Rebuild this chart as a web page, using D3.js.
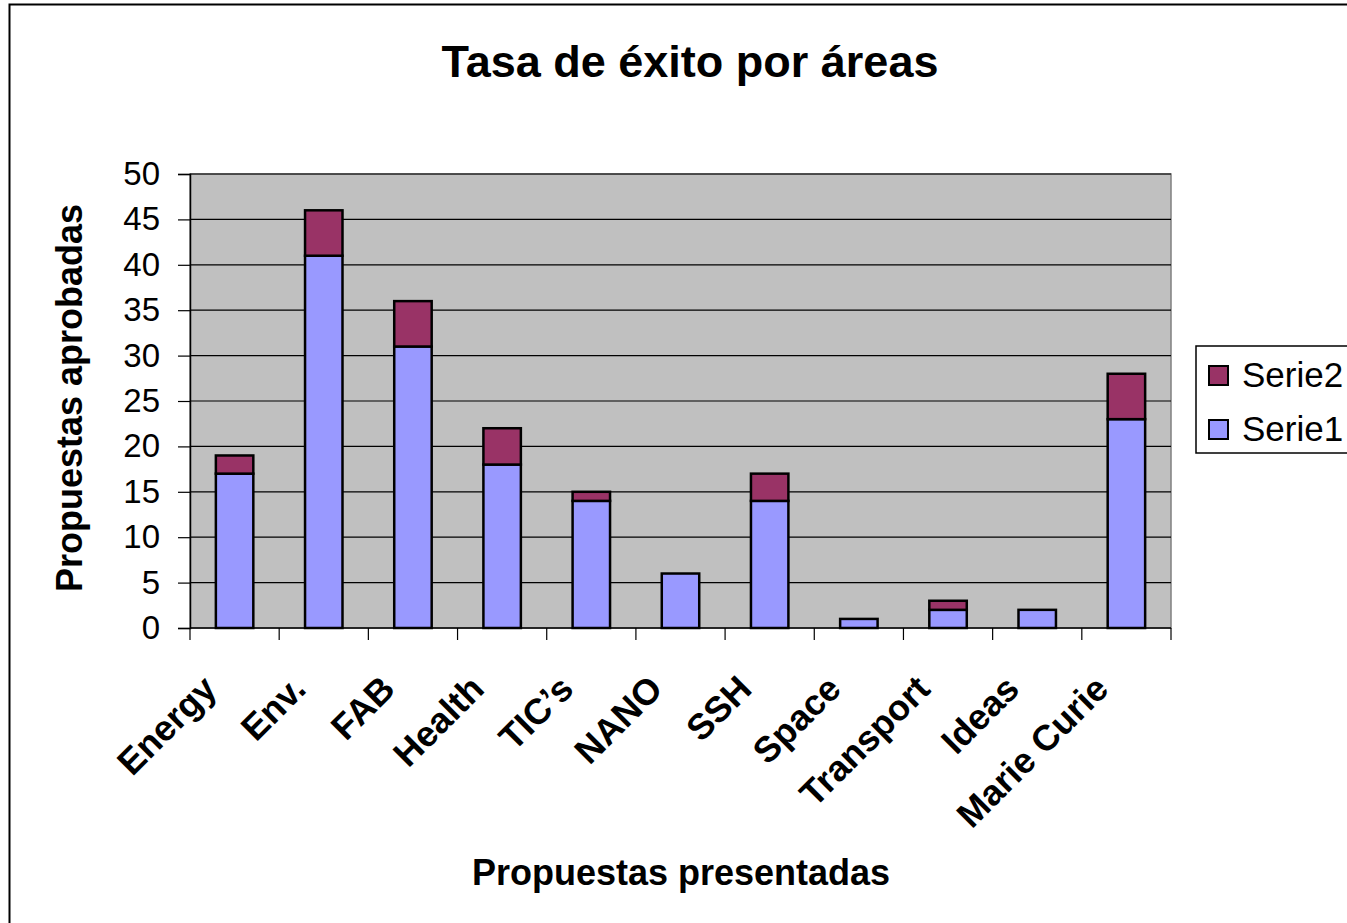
<!DOCTYPE html>
<html><head><meta charset="utf-8">
<script src="https://cdn.jsdelivr.net/npm/d3@7"></script>
<style>body{margin:0;background:#fff}svg{display:block;font-family:Arial,"Liberation Sans",sans-serif}</style>
</head><body>
<svg id="c" width="1347" height="923"></svg>
<script>
const categories = ["Energy","Env.","FAB","Health","TIC’s","NANO","SSH","Space","Transport","Ideas","Marie Curie"];
const serie1 = [17,41,31,18,14,6,14,1,2,2,23];
const serie2 = [2,5,5,4,1,0,3,0,1,0,5];
const yTicks = [0,5,10,15,20,25,30,35,40,45,50];
const seriesNames = ["Serie1","Serie2"];
const colors = {Serie1:"#9999FF", Serie2:"#993366"};

const svg = d3.select("#c");
svg.append("rect").attr("x",9.5).attr("y",4.5).attr("width",1400).attr("height",1000)
  .attr("fill","#fff").attr("stroke","#000").attr("stroke-width",2);

const L=190,R=1171,T=174,B=628;
const x = d3.scaleBand().domain(categories).range([L,R]).paddingInner(0.58).paddingOuter(0.29);
const xb = d3.scaleBand().domain(categories).range([L,R]);
const y = d3.scaleLinear().domain([0,50]).range([B,T]);

svg.append("rect").attr("x",L).attr("y",T).attr("width",R-L).attr("height",B-T)
  .attr("fill","#C0C0C0").attr("stroke","#808080").attr("stroke-width",1.5);

svg.append("g").selectAll("line").data(yTicks.filter(d=>d>0)).join("line")
  .attr("x1",L).attr("x2",R).attr("y1",d=>y(d)).attr("y2",d=>y(d))
  .attr("stroke","#000").attr("stroke-width",1.2);

const data = categories.map((c,i)=>({cat:c,Serie1:serie1[i],Serie2:serie2[i]}));
const stack = d3.stack().keys(seriesNames)(data);
svg.append("g").selectAll("g").data(stack).join("g")
  .attr("fill",s=>colors[s.key])
  .selectAll("rect").data(s=>s.filter(d=>d[1]-d[0]>0)).join("rect")
  .attr("x",d=>x(d.data.cat)).attr("width",x.bandwidth())
  .attr("y",d=>y(d[1])).attr("height",d=>y(d[0])-y(d[1]))
  .attr("stroke","#000").attr("stroke-width",2.5);

const ya = svg.append("g").attr("transform",`translate(${L},0)`)
  .call(d3.axisLeft(y).tickValues(yTicks).tickSize(12).tickPadding(18));
ya.select(".domain").attr("stroke","#000").attr("stroke-width",1.5);
ya.selectAll(".tick line").attr("stroke","#000").attr("stroke-width",1.2);
ya.selectAll(".tick text").attr("font-size",33).attr("fill","#000").attr("font-family","Arial,'Liberation Sans',sans-serif");

const xa = svg.append("g").attr("transform",`translate(0,${B})`);
xa.append("line").attr("x1",L).attr("x2",R).attr("stroke","#000").attr("stroke-width",1.5);
const bounds = categories.map(c=>xb(c)).concat([R]);
xa.selectAll("line.t").data(bounds).join("line").attr("class","t")
  .attr("x1",d=>d).attr("x2",d=>d).attr("y1",0).attr("y2",12).attr("stroke","#000").attr("stroke-width",1.2);
xa.selectAll("text").data(categories).join("text")
  .attr("transform",c=>`translate(${xb(c)+xb.bandwidth()/2-16},${63}) rotate(-45)`)
  .attr("text-anchor","end").attr("font-size",36).attr("font-weight","bold").attr("fill","#000")
  .text(c=>c);

svg.append("text").attr("x",690).attr("y",77).attr("text-anchor","middle")
  .attr("font-size",45).attr("font-weight","bold").text("Tasa de éxito por áreas");
svg.append("text").attr("x",681).attr("y",885).attr("text-anchor","middle")
  .attr("font-size",36).attr("font-weight","bold").text("Propuestas presentadas");
svg.append("text").attr("transform",`translate(82,398) rotate(-90)`).attr("text-anchor","middle")
  .attr("font-size",36).attr("font-weight","bold").text("Propuestas aprobadas");

const lg = svg.append("g");
lg.append("rect").attr("x",1196).attr("y",346).attr("width",200).attr("height",107)
  .attr("fill","#fff").attr("stroke","#000").attr("stroke-width",1.5);
const legItems = ["Serie2","Serie1"];
lg.selectAll("g").data(legItems).join("g")
  .attr("transform",(d,i)=>`translate(1209,${366+i*54})`)
  .each(function(d){
    const g=d3.select(this);
    g.append("rect").attr("width",19).attr("height",19).attr("fill",colors[d]).attr("stroke","#000").attr("stroke-width",2);
    g.append("text").attr("x",33).attr("y",21).attr("font-size",35).text(d);
  });
</script>
</body></html>
